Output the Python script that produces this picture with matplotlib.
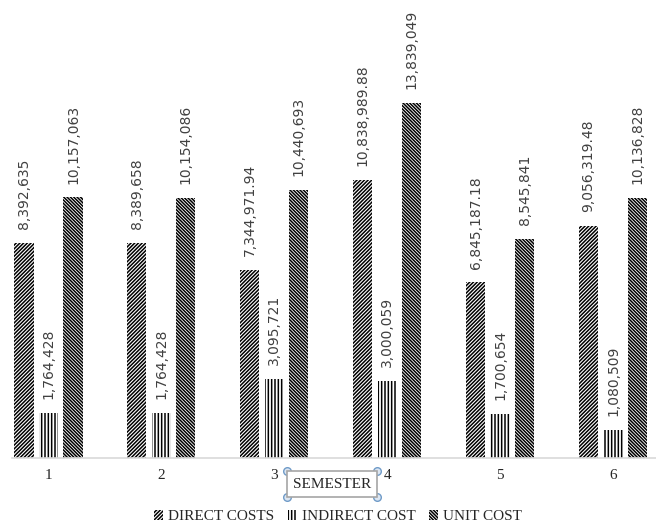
import matplotlib.pyplot as plt
from matplotlib.lines import Line2D
import numpy as np

semesters = ['1', '2', '3', '4', '5', '6']
direct_costs = [8392635, 8389658, 7344971.94, 10838989.88, 6845187.18, 9056319.48]
indirect_cost = [1764428, 1764428, 3095721, 3000059, 1700654, 1080509]
unit_cost = [10157063, 10154086, 10440693, 13839049, 8545841, 10136828]


def fmt(v):
    if float(v).is_integer():
        return f"{v:,.0f}"
    return f"{v:,.2f}"


plt.rcParams['hatch.linewidth'] = 1.1

fig = plt.figure(figsize=(6.56, 5.24), dpi=100)
ax = fig.add_axes([12 / 656, 66 / 524, 644 / 656, 423 / 524])

x = np.arange(len(semesters))
w = 0.17
off = 0.217
label_color = '#404040'

series = [
    (direct_costs, -off, '/' * 9, 'DIRECT COSTS'),
    (indirect_cost, 0, '|' * 5, 'INDIRECT COST'),
    (unit_cost, off, '\\' * 10, 'UNIT COST'),
]
for vals, dx, hatch, name in series:
    bars = ax.bar(x + dx, vals, w, color='white', edgecolor='black',
                  linewidth=0, hatch=hatch, label=name)
    ax.bar_label(bars, labels=[fmt(v) for v in vals], rotation=90,
                 padding=10, fontsize=10, color=label_color,
                 family='DejaVu Sans')

ax.set_xlim(-0.3233, 5.381)
ax.set_ylim(0, 16.49e6)
ax.set_xticks(x)
ax.set_xticklabels(semesters, family='Liberation Serif', fontsize=11,
                   color='#262626')
ax.tick_params(axis='x', length=0, pad=8)
ax.set_yticks([])
for s in ['top', 'right', 'left']:
    ax.spines[s].set_visible(False)
ax.spines['bottom'].set_color('#d9d9d9')
ax.spines['bottom'].set_linewidth(1.2)

leg = fig.legend(loc='lower center', bbox_to_anchor=(338 / 656, 0.0),
                 ncol=3, frameon=False, borderaxespad=0, borderpad=0.05,
                 handlelength=0.6, handleheight=0.6, handletextpad=0.3,
                 columnspacing=0.9,
                 prop={'family': 'Liberation Serif', 'size': 11})
for t in leg.get_texts():
    t.set_color('#262626')

# axis title box with selection handles
title = fig.text(332 / 656, 1 - 484 / 524, 'SEMESTER', ha='center', va='center',
                 family='Liberation Serif', fontsize=11, color='#262626',
                 bbox=dict(boxstyle='square,pad=0.4', fc='white',
                           ec='#a6a6a6', lw=1.2))
fig.canvas.draw()
bb = title.get_bbox_patch().get_window_extent()
inv = fig.transFigure.inverted()
for cx, cy in [(bb.x0, bb.y0), (bb.x1, bb.y0), (bb.x0, bb.y1), (bb.x1, bb.y1)]:
    fx, fy = inv.transform((cx, cy))
    fig.add_artist(Line2D([fx], [fy], marker='o', markersize=5.5,
                          markerfacecolor='#dce6f2', markeredgecolor='#6f9bc8',
                          markeredgewidth=1.0, transform=fig.transFigure))

fig.savefig('out.png', dpi=100)
